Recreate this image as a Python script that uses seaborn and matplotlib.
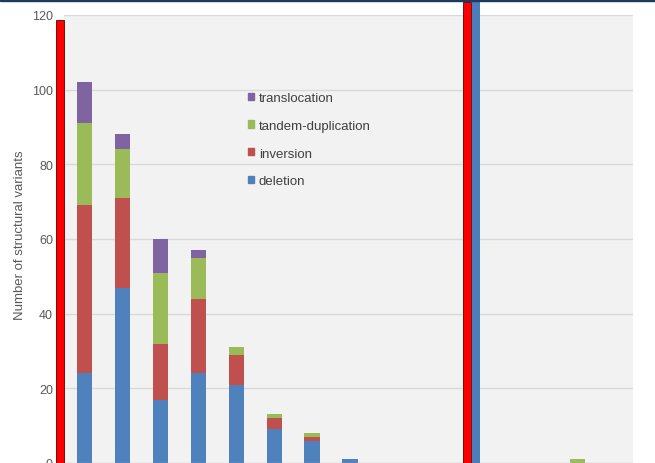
import numpy as np
import pandas as pd
import matplotlib
matplotlib.use('Agg')
import matplotlib.pyplot as plt
from matplotlib.patches import Rectangle
import seaborn as sns

# Stacked counts per category
categories = [str(i) for i in range(1, 16)]
deletion = [24, 47, 17, 24, 21, 9, 6, 1, 0, 0, 0, 0, 0, 0, 0]
inversion = [45, 24, 15, 20, 8, 3, 1, 0, 0, 0, 0, 0, 0, 0, 0]
tandem_duplication = [22, 13, 19, 11, 2, 1, 1, 0, 0, 0, 0, 0, 0, 1, 0]
translocation = [11, 4, 9, 2, 0, 0, 0, 0, 0, 0, 0, 0, 0, 0, 0]

series_names = ['deletion', 'inversion', 'tandem-duplication', 'translocation']
series_colors = ['#4f81bd', '#c0504d', '#9bbb59', '#8064a2']

# Highlight overlay bars (position on the category axis, height)
highlight_x = [-0.65, 10.09]
highlight_h = [118.7, 123.5]
tall_x = [10.33]
tall_h = [127]

yticks = [0, 20, 40, 60, 80, 100, 120]

df = pd.DataFrame({'category': categories,
                   'deletion': deletion,
                   'inversion': inversion,
                   'tandem-duplication': tandem_duplication,
                   'translocation': translocation})

sns.set_style('white')
plt.rcParams['font.family'] = ['Liberation Sans', 'DejaVu Sans']

fig = plt.figure(figsize=(6.55, 4.64), dpi=100)
ax = fig.add_axes([64 / 655, 0.0, 569 / 655, 448 / 464])
ax.set_facecolor('#f2f2f2')

bottom = np.zeros(len(categories))
for name, color in zip(series_names, series_colors):
    sns.barplot(data=df, x='category', y=name, color=color, bottom=bottom,
                width=0.4, linewidth=0, saturation=1, label=name, ax=ax)
    bottom += df[name].values

# overlay markers
ax.bar(highlight_x, highlight_h, width=0.21, color='#ff0000', edgecolor='#5a0000',
       linewidth=0.6, clip_on=False, zorder=5)
ax.bar(tall_x, tall_h, width=0.21, color='#4a7ebb', linewidth=0, clip_on=False, zorder=5)

ax.set_xlim(-0.546, 14.47)
ax.set_ylim(0, 120)
ax.set_yticks(yticks)
ax.yaxis.grid(True, color='#d9d9d9', linewidth=1)
ax.set_axisbelow(True)
for side in ['top', 'right', 'left']:
    ax.spines[side].set_visible(False)
ax.spines['bottom'].set_color('#d9d9d9')
ax.tick_params(axis='y', length=0, pad=8, labelsize=9, labelcolor='#595959')
ax.tick_params(axis='x', length=0, labelbottom=False)
ax.set_xlabel('')
ax.set_ylabel('Number of structural variants', fontsize=9.5, color='#595959')
ax.yaxis.set_label_coords(-0.066, 0.51)

handles = [Rectangle((0, 0), 1, 1, color=c) for c in series_colors][::-1]
labels = series_names[::-1]
ax.legend(handles, labels, loc='upper left', bbox_to_anchor=(0.303, 0.855),
          frameon=False, fontsize=9.5, labelcolor='#404040',
          handlelength=0.45, handleheight=0.45, handletextpad=0.35, labelspacing=1.2)

fig.add_artist(Rectangle((0, 1 - 2 / 464), 1, 2 / 464, transform=fig.transFigure,
                         color='#1f3b5c', zorder=10))

fig.savefig('out.png', dpi=100)
